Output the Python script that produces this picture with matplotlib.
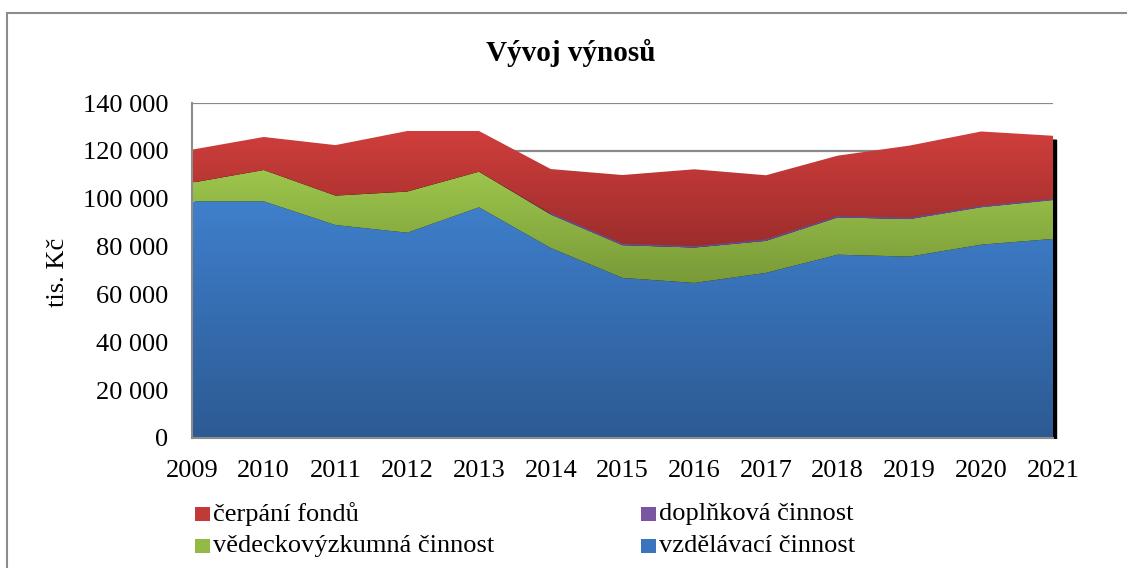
import matplotlib
matplotlib.use("Agg")
import matplotlib.pyplot as plt
import numpy as np
from matplotlib.colors import LinearSegmentedColormap
from matplotlib.patches import Rectangle
from matplotlib.transforms import Bbox, TransformedBbox, offset_copy
from matplotlib.ticker import FuncFormatter

plt.rcParams['font.family'] = ['Liberation Serif', 'DejaVu Serif']

years = list(range(2009, 2022))
# tis. Kc
vzdelavaci = [98900, 98900, 89000, 85800, 96400, 79400, 66900, 64800, 69000, 76600, 75800, 80800, 83200]
vedecko = [7800, 13100, 12300, 17200, 14900, 14000, 13700, 14800, 13400, 15600, 15700, 15700, 16300]
doplnkova = [0, 0, 0, 0, 0, 300, 300, 300, 300, 300, 300, 200, 200]
cerpani = [13800, 13800, 21100, 25300, 17000, 18700, 29000, 32400, 27100, 25500, 30400, 31400, 26600]

series = [
    ("vzdělávací činnost", vzdelavaci, ("#3f7fcc", "#2c5a93")),
    ("vědeckovýzkumná činnost", vedecko, ("#9dc64c", "#799a38")),
    ("doplňková činnost", doplnkova, ("#8060a8", "#5d3f80")),
    ("čerpání fondů", cerpani, ("#cf3e3c", "#9c2d2b")),
]

fig = plt.figure(figsize=(11.27, 5.68), dpi=100)
ax = fig.add_axes([192 / 1127, 1 - 438 / 568, 861 / 1127, 335 / 568])

# outer chart border (only left and top visible)
fig.patches.append(Rectangle((7 / 1127, -0.1), 1.2, 1 - 13 / 568 + 0.1,
                             transform=fig.transFigure, fill=False,
                             edgecolor="#8c8c8c", linewidth=1.5))

x = np.array(years, dtype=float)
total = np.sum([s[1] for s in series], axis=0)

# shadow on the right edge
shadow = ax.fill_between(x, 0, total, color="black", zorder=1,
                         transform=offset_copy(ax.transData, fig, x=3, y=-4, units='dots'))
shadow.set_clip_box(TransformedBbox(Bbox([[0, 0], [1.02, 1.0]]), ax.transAxes))

base = np.zeros(len(x))
for name, vals, (c_top, c_bot) in series:
    top = base + np.array(vals)
    poly = ax.fill_between(x, base, top, facecolor="none", edgecolor="none", zorder=2)
    if np.max(vals) > 0:
        cmap = LinearSegmentedColormap.from_list(name, [c_bot, c_top])
        grad = np.linspace(0, 1, 256).reshape(-1, 1)
        im = ax.imshow(grad, cmap=cmap, aspect="auto", origin="lower",
                       extent=[x[0], x[-1], base.min(), top.max()], zorder=2)
        im.set_clip_path(poly.get_paths()[0], transform=ax.transData)
    if name == "doplňková činnost":
        ax.plot(x[5:], top[5:], color="#6a4a94", linewidth=1.0, zorder=3)
    base = top

ax.set_xlim(2009, 2021)
ax.set_ylim(0, 140000)
ax.set_yticks(np.arange(0, 140001, 20000))
ax.set_xticks(years)
ax.yaxis.set_major_formatter(FuncFormatter(lambda v, p: f"{int(v):,}".replace(",", " ")))
ax.grid(axis="y", color="#8a8a8a", linewidth=1.6, zorder=0)
ax.set_axisbelow(True)
ax.tick_params(length=0, labelsize=19)
ax.tick_params(axis="x", pad=16)
ax.tick_params(axis="y", pad=17)
for side in ["top", "right"]:
    ax.spines[side].set_visible(False)
for side in ["left", "bottom"]:
    ax.spines[side].set_color("#8c8c8c")
    ax.spines[side].set_linewidth(1.5)
    ax.spines[side].set_zorder(4)

fig.text(58 / 1127, 1 - 272 / 568, "tis. Kč", rotation=90, fontsize=19,
         ha="center", va="center")
fig.text(571 / 1127, 1 - 53 / 568, "Vývoj výnosů", fontsize=21,
         fontweight="bold", ha="center", va="center")

# legend
legend_items = [
    ("čerpání fondů", "#c23a38", 195, 514),
    ("doplňková činnost", "#7a55a0", 641, 514),
    ("vědeckovýzkumná činnost", "#92bb45", 195, 546),
    ("vzdělávací činnost", "#3a74bf", 641, 546),
]
for label, col, px, py in legend_items:
    fig.patches.append(Rectangle((px / 1127, 1 - (py + 7) / 568), 15 / 1127, 14 / 568,
                                 transform=fig.transFigure, facecolor=col,
                                 edgecolor="none"))
    fig.text((px + 18) / 1127, 1 - py / 568, label, fontsize=19,
             ha="left", va="center")

fig.savefig("out.png", dpi=100)
